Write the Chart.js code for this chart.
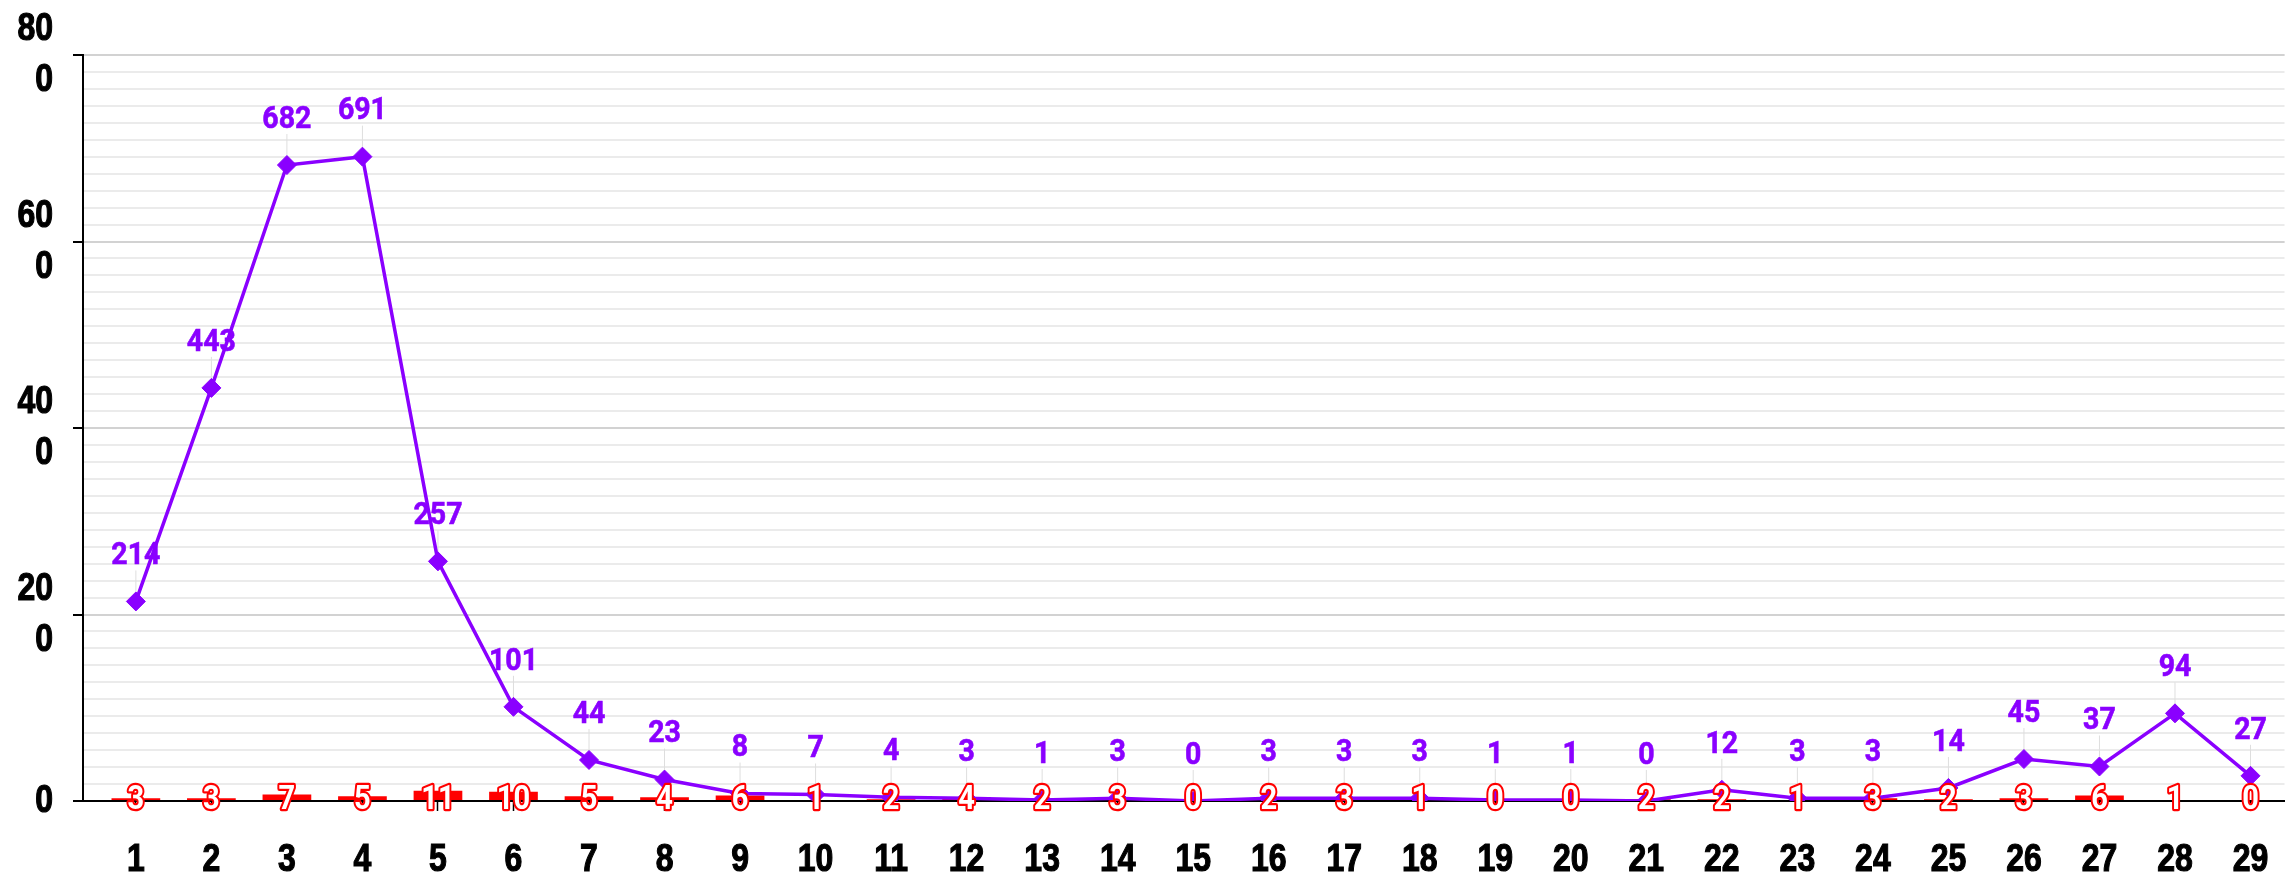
<!DOCTYPE html>
<html>
<head>
<meta charset="utf-8">
<script src="https://cdn.jsdelivr.net/npm/chart.js@4.4.1/dist/chart.umd.min.js"></script>
<style>
  html, body { margin: 0; padding: 0; background: #fff; }
  #wrap { width: 2295px; height: 877px; position: relative; }
</style>
</head>
<body>
<div id="wrap"><canvas id="chart"></canvas></div>
<script>
// 日付 (1..29)
const days = [1, 2, 3, 4, 5, 6, 7, 8, 9, 10, 11, 12, 13, 14, 15, 16, 17, 18, 19, 20, 21, 22, 23, 24, 25, 26, 27, 28, 29];
// 紫の折れ線
const lineValues = [214, 443, 682, 691, 257, 101, 44, 23, 8, 7, 4, 3, 1, 3, 0, 3, 3, 3, 1, 1, 0, 12, 3, 3, 14, 45, 37, 94, 27];
// 赤い棒
const barValues = [3, 3, 7, 5, 11, 10, 5, 4, 6, 1, 2, 4, 2, 3, 0, 2, 3, 1, 0, 0, 2, 2, 1, 3, 2, 3, 6, 1, 0];
// 縦軸
const yMin = 0;
const yMax = 800;
const yStep = 200;
const yMinorCount = 44;

const purple = '#8a00ff';
const red = '#ff0000';
const tickFontStr = 'bold 39px "Liberation Sans", Arial, sans-serif';
const valueFontStr = 'bold 31px Roboto, sans-serif';
const barFontStr = 'bold 33px Roboto, sans-serif';

// 文字を横に詰めて描く (細いフォントが無いので)
const drawNarrow = (ctx, text, x, y, squeeze, stroke) => {
    const w = ctx.measureText(text).width * squeeze;
    if (stroke) {
        ctx.strokeText(text, x, y, w);
    }
    ctx.fillText(text, x, y, w);
};

// 値ラベル
const valueLabels = {
    id: 'valueLabels',
    beforeDatasetsDraw(chart) {
        const ctx = chart.ctx;
        const meta = chart.getDatasetMeta(1);
        ctx.save();
        ctx.strokeStyle = '#dedede';
        ctx.lineWidth = 1;
        meta.data.forEach(p => {
            ctx.beginPath();
            ctx.moveTo(p.x, p.y - 31);
            ctx.lineTo(p.x, p.y - 9);
            ctx.stroke();
        });
        ctx.restore();
    },
    afterDatasetsDraw(chart) {
        const ctx = chart.ctx;
        const lineMeta = chart.getDatasetMeta(1);
        const barMeta = chart.getDatasetMeta(0);
        const zeroY = chart.scales.y.getPixelForValue(0);
        ctx.save();
        ctx.textAlign = 'center';
        ctx.textBaseline = 'middle';

        ctx.font = valueFontStr;
        ctx.fillStyle = purple;
        ctx.strokeStyle = purple;
        ctx.lineWidth = 0.6;
        lineMeta.data.forEach((p, i) => {
            drawNarrow(ctx, String(lineValues[i]), p.x, p.y - 45, 0.92, true);
        });

        ctx.font = barFontStr;
        ctx.lineJoin = 'round';
        ctx.lineWidth = 4.5;
        ctx.strokeStyle = red;
        ctx.fillStyle = '#ffffff';
        barMeta.data.forEach((b, i) => {
            drawNarrow(ctx, String(barValues[i]), b.x, zeroY, 0.88, true);
        });
        ctx.restore();
    }
};

// 軸ラベル (scale の目盛り位置から描く)
const tickLabels = {
    id: 'tickLabels',
    afterDraw(chart) {
        const ctx = chart.ctx;
        const x = chart.scales.x;
        const y = chart.scales.y;
        ctx.save();
        ctx.font = tickFontStr;
        ctx.fillStyle = '#000';
        ctx.strokeStyle = '#000';
        ctx.lineWidth = 1.2;
        ctx.textBaseline = 'middle';

        ctx.textAlign = 'center';
        x.ticks.forEach(t => {
            drawNarrow(ctx, String(t.label), x.getPixelForValue(t.value), x.top + 59, 0.82, true);
        });

        ctx.textAlign = 'right';
        y.ticks.forEach(t => {
            const lines = [].concat(t.label);
            const py = y.getPixelForValue(t.value);
            lines.forEach((line, k) => {
                drawNarrow(ctx, line, y.right - 30, py + (k - (lines.length - 1) / 2) * 51, 0.82, true);
            });
        });
        ctx.restore();
    }
};

const ctx = document.getElementById('chart').getContext('2d');
new Chart(ctx, {
    type: 'bar',
    data: {
        datasets: [{
            type: 'bar',
            data: days.map((d, i) => ({ x: d, y: barValues[i] })),
            backgroundColor: red,
            borderWidth: 0,
            barPercentage: 0.645,
            categoryPercentage: 1,
            order: 2
        }, {
            type: 'line',
            data: days.map((d, i) => ({ x: d, y: lineValues[i] })),
            borderColor: purple,
            backgroundColor: purple,
            borderWidth: 3.5,
            tension: 0,
            pointStyle: 'rectRot',
            pointRadius: 9.5,
            pointBorderWidth: 1,
            pointBackgroundColor: purple,
            pointBorderColor: purple,
            order: 1
        }]
    },
    options: {
        responsive: true,
        maintainAspectRatio: false,
        animation: false,
        layout: { padding: { top: 55, right: 0, bottom: 0, left: 0 } },
        plugins: {
            legend: { display: false },
            tooltip: { enabled: false }
        },
        scales: {
            x: {
                type: 'linear',
                position: 'bottom',
                offset: false,
                min: 0.3,
                max: 29.45,
                afterFit: scale => {
                    scale.height = 76;
                    scale.paddingLeft = 0;
                    scale.paddingRight = 0;
                },
                ticks: {
                    display: false,
                    stepSize: 1,
                    includeBounds: false,
                    autoSkip: false,
                    maxRotation: 0
                },
                grid: {
                    offset: false,
                    drawOnChartArea: false,
                    drawTicks: true,
                    tickLength: 10,
                    tickColor: '#000',
                    tickWidth: 1.5
                },
                border: { color: '#000', width: 2 }
            },
            yMinor: {
                type: 'linear',
                position: 'left',
                min: yMin,
                max: yMax,
                afterFit: scale => {
                    scale.width = 0;
                    scale.paddingTop = 0;
                    scale.paddingBottom = 0;
                },
                ticks: {
                    display: false,
                    stepSize: (yMax - yMin) / yMinorCount,
                    font: { size: 10 }
                },
                grid: { color: '#ebebeb', lineWidth: 2, drawTicks: false },
                border: { display: false }
            },
            y: {
                type: 'linear',
                position: 'left',
                min: yMin,
                max: yMax,
                afterFit: scale => {
                    scale.width = 83;
                    scale.paddingTop = 0;
                    scale.paddingBottom = 0;
                },
                ticks: {
                    display: false,
                    stepSize: yStep,
                    callback: value => {
                        const s = String(value);
                        return s.length > 1 ? [s.slice(0, -1), s.slice(-1)] : s;
                    }
                },
                grid: { color: '#d2d2d2', lineWidth: 2, tickLength: 10, tickColor: '#000', tickWidth: 2 },
                border: { color: '#000', width: 2 }
            }
        }
    },
    plugins: [valueLabels, tickLabels]
});
</script>
</body>
</html>
